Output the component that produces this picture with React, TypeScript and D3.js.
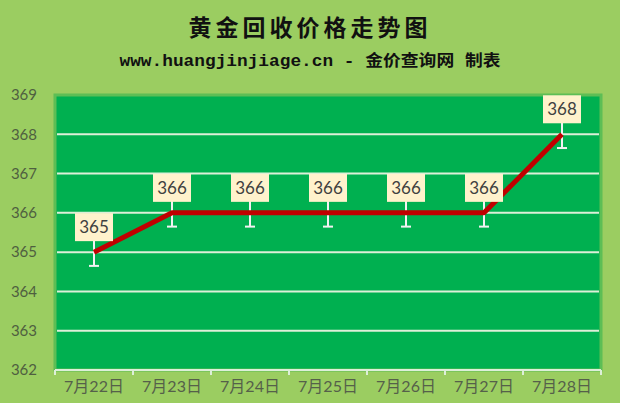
import React from "react";
import * as d3 from "d3";

const categories = ["7月22日", "7月23日", "7月24日", "7月25日", "7月26日", "7月27日", "7月28日"];
const prices = [365, 366, 366, 366, 366, 366, 368];
const yTicks = [362, 363, 364, 365, 366, 367, 368, 369];
const errorBelow = 0.35;
const title = "黄金回收价格走势图";
const subtitle = "www.huangjinjiage.cn - 金价查询网 制表";

export default function App() {
  const W = 620, H = 403;
  const plot = { left: 55, right: 601, top: 95, bottom: 370 };
  const x = d3.scaleBand<string>().domain(categories).range([plot.left, plot.right]);
  const y = d3.scaleLinear().domain([362, 369]).range([plot.bottom, plot.top]);
  const cx = (c: string) => (x(c) as number) + x.bandwidth() / 2;
  const line = d3.line<number>().x((_, i) => cx(categories[i])).y((d) => y(d));
  const boundaries = categories.map((c) => x(c) as number).concat([plot.right]);

  return (
    <svg width={W} height={H} style={{ position: "absolute", left: 0, top: 0, display: "block" }}>
      <rect x={0} y={0} width={W} height={H} fill="#9BCD61" />
      <text x={W / 2} y={36} textAnchor="middle" fontFamily="'Noto Sans CJK SC'" fontWeight="bold" fontSize={23} letterSpacing={4} fill="#111">
        {title}
      </text>
      <text x={W / 2} y={66} textAnchor="middle" fontFamily="'Liberation Mono', 'Noto Sans CJK SC'" fontWeight="bold" fontSize={16} fill="#111" textLength={381} lengthAdjust="spacingAndGlyphs">
        {subtitle}
      </text>
      <rect x={plot.left} y={plot.top} width={plot.right - plot.left} height={plot.bottom - plot.top} fill="#00B050" stroke="#5DBE55" strokeWidth={3} />
      {yTicks.slice(1, -1).map((t) => (
        <line key={t} x1={plot.left + 2} x2={plot.right - 2} y1={y(t)} y2={y(t)} stroke="#DDEFD8" strokeWidth={2} />
      ))}
      <line x1={plot.left} x2={plot.right} y1={plot.bottom} y2={plot.bottom} stroke="#DDEFD8" strokeWidth={2} />
      {boundaries.map((b, i) => (
        <line key={i} x1={b} x2={b} y1={plot.bottom} y2={plot.bottom + 5} stroke="#DDEFD8" strokeWidth={2} />
      ))}
      {yTicks.map((t) => (
        <text key={t} x={37} y={y(t)} dy="0.35em" textAnchor="end" fontFamily="Lato, 'Open Sans'" fontSize={15} fill="#4F5F40">
          {t}
        </text>
      ))}
      {categories.map((c) => (
        <text key={c} x={cx(c)} y={392} textAnchor="middle" fontFamily="Lato, 'Noto Sans CJK SC'" fontSize={16} fill="#55604A">
          {c}
        </text>
      ))}
      {prices.map((p, i) => {
        const px = cx(categories[i]);
        return (
          <g key={"e" + i}>
            <line x1={px} x2={px} y1={y(p) - 14} y2={y(p - errorBelow)} stroke="#F2F2F2" strokeWidth={2} />
            <line x1={px - 5} x2={px + 5} y1={y(p - errorBelow)} y2={y(p - errorBelow)} stroke="#F2F2F2" strokeWidth={2} />
          </g>
        );
      })}
      <path d={line(prices) || ""} fill="none" stroke="#C00000" strokeWidth={5} strokeLinejoin="round" />
      {prices.map((p, i) => {
        const px = cx(categories[i]);
        const by = y(p) - 11;
        return (
          <g key={"l" + i}>
            <rect x={px - 19} y={by - 28} width={38} height={28} fill="#FFF2CC" />
            <text x={px} y={by - 14} dy="0.36em" textAnchor="middle" fontFamily="Lato, 'Open Sans'" fontSize={17} fill="#404040">
              {p}
            </text>
          </g>
        );
      })}
    </svg>
  );
}
